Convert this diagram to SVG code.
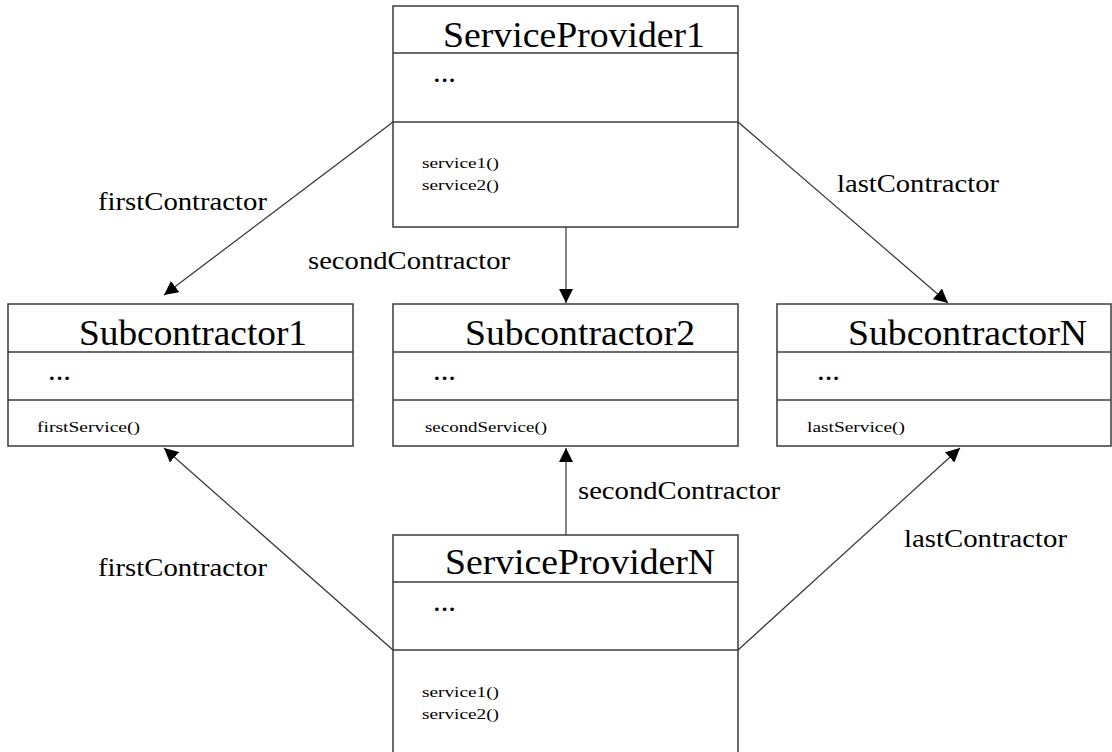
<svg xmlns="http://www.w3.org/2000/svg" width="1112" height="752" viewBox="0 0 1112 752">
<style>
.box{fill:#fff;stroke:#3a3a3a;stroke-width:1.5}
.sep{stroke:#3a3a3a;stroke-width:1.5}
text{font-family:'Liberation Serif','Times New Roman','DejaVu Serif',serif;fill:#000}
.title{font-size:36px}
.dots{font-size:30px}
.op{font-size:14px}
.lbl{font-size:26px}
.conn{stroke:#333;stroke-width:1.2;fill:none;marker-end:url(#arr)}
</style>
<defs>
<marker id="arr" markerUnits="userSpaceOnUse" markerWidth="14" markerHeight="14" viewBox="0 0 12 12" refX="12" refY="6" orient="auto">
<path d="M0,0 L12,6 L0,12 Z" fill="#000"/>
</marker>
</defs>
<rect width="1112" height="752" fill="#fff"/>
<g id="connectors">
<line class="conn" x1="393" y1="122" x2="164" y2="295"/>
<line class="conn" x1="566" y1="227" x2="566" y2="303"/>
<line class="conn" x1="738" y1="122" x2="948" y2="303"/>
<line class="conn" x1="393" y1="650" x2="164" y2="448"/>
<line class="conn" x1="566" y1="535" x2="566" y2="448"/>
<line class="conn" x1="738" y1="650" x2="960" y2="448"/>
<text class="lbl" x="98" y="210" textLength="169" lengthAdjust="spacingAndGlyphs">firstContractor</text>
<text class="lbl" x="308" y="269" textLength="202" lengthAdjust="spacingAndGlyphs">secondContractor</text>
<text class="lbl" x="837" y="192" textLength="162" lengthAdjust="spacingAndGlyphs">lastContractor</text>
<text class="lbl" x="98" y="576" textLength="169" lengthAdjust="spacingAndGlyphs">firstContractor</text>
<text class="lbl" x="578" y="499" textLength="202" lengthAdjust="spacingAndGlyphs">secondContractor</text>
<text class="lbl" x="904" y="547" textLength="163" lengthAdjust="spacingAndGlyphs">lastContractor</text>
</g>
<g id="ServiceProvider1">
<rect class="box" x="393" y="6" width="345" height="221"/>
<line class="sep" x1="393" y1="53" x2="738" y2="53"/>
<line class="sep" x1="393" y1="122" x2="738" y2="122"/>
<text class="title" x="443" y="47" textLength="262" lengthAdjust="spacingAndGlyphs">ServiceProvider1</text>
<text class="dots" x="433" y="82" textLength="23" lengthAdjust="spacingAndGlyphs">...</text>
<text class="op" x="422" y="168" textLength="77" lengthAdjust="spacingAndGlyphs">service1()</text>
<text class="op" x="422" y="190" textLength="77" lengthAdjust="spacingAndGlyphs">service2()</text>
</g>
<g id="Subcontractor1">
<rect class="box" x="8" y="304" width="345" height="142"/>
<line class="sep" x1="8" y1="352" x2="353" y2="352"/>
<line class="sep" x1="8" y1="400" x2="353" y2="400"/>
<text class="title" x="79" y="345" textLength="228" lengthAdjust="spacingAndGlyphs">Subcontractor1</text>
<text class="dots" x="48" y="380" textLength="23" lengthAdjust="spacingAndGlyphs">...</text>
<text class="op" x="37" y="432" textLength="103" lengthAdjust="spacingAndGlyphs">firstService()</text>
</g>
<g id="Subcontractor2">
<rect class="box" x="393" y="304" width="345" height="142"/>
<line class="sep" x1="393" y1="352" x2="738" y2="352"/>
<line class="sep" x1="393" y1="400" x2="738" y2="400"/>
<text class="title" x="465" y="345" textLength="230" lengthAdjust="spacingAndGlyphs">Subcontractor2</text>
<text class="dots" x="433" y="380" textLength="23" lengthAdjust="spacingAndGlyphs">...</text>
<text class="op" x="425" y="432" textLength="122" lengthAdjust="spacingAndGlyphs">secondService()</text>
</g>
<g id="SubcontractorN">
<rect class="box" x="777" y="304" width="334" height="142"/>
<line class="sep" x1="777" y1="352" x2="1111" y2="352"/>
<line class="sep" x1="777" y1="400" x2="1111" y2="400"/>
<text class="title" x="848" y="345" textLength="239" lengthAdjust="spacingAndGlyphs">SubcontractorN</text>
<text class="dots" x="817" y="380" textLength="23" lengthAdjust="spacingAndGlyphs">...</text>
<text class="op" x="807" y="432" textLength="98" lengthAdjust="spacingAndGlyphs">lastService()</text>
</g>
<g id="ServiceProviderN">
<rect class="box" x="393" y="535" width="345" height="230"/>
<line class="sep" x1="393" y1="582" x2="738" y2="582"/>
<line class="sep" x1="393" y1="650" x2="738" y2="650"/>
<text class="title" x="445" y="574" textLength="270" lengthAdjust="spacingAndGlyphs">ServiceProviderN</text>
<text class="dots" x="433" y="611" textLength="23" lengthAdjust="spacingAndGlyphs">...</text>
<text class="op" x="422" y="697" textLength="77" lengthAdjust="spacingAndGlyphs">service1()</text>
<text class="op" x="422" y="719" textLength="77" lengthAdjust="spacingAndGlyphs">service2()</text>
</g>
</svg>
